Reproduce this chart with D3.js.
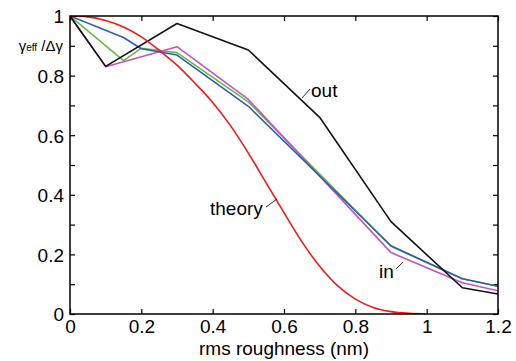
<!DOCTYPE html>
<html>
<head>
<meta charset="utf-8">
<script src="https://cdn.jsdelivr.net/npm/d3@7"></script>
<style>
  body { margin: 0; background: #fff; }
  svg { display: block; font-family: "Liberation Sans", Arial, sans-serif; }
</style>
</head>
<body>
<svg id="chart" width="516" height="361"></svg>
<script>
// measured curves (rms roughness in nm -> gamma_eff / delta gamma)
let outX = [0, 0.1, 0.3, 0.5, 0.7, 0.9, 1.1, 1.2];
let outY = [1, 0.831, 0.975, 0.886, 0.66, 0.31, 0.088, 0.067];

let inX = [0, 0.1, 0.3, 0.5, 0.9, 1.1, 1.2];
let inY = [1, 0.83, 0.897, 0.72, 0.206, 0.105, 0.078];

let blueX = [0, 0.15, 0.2, 0.3, 0.5, 0.9, 1.1, 1.2];
let blueY = [1, 0.928, 0.89, 0.869, 0.697, 0.229, 0.118, 0.093];

let greenX = [0, 0.15, 0.2, 0.3, 0.5, 0.9, 1.1, 1.2];
let greenY = [1, 0.85, 0.892, 0.877, 0.712, 0.227, 0.118, 0.093];

// theory curve
let theoryX = [0, 0.05, 0.1, 0.15, 0.2, 0.25, 0.3, 0.35, 0.4, 0.45, 0.5, 0.55, 0.6, 0.65, 0.7, 0.75, 0.8, 0.85, 0.9, 0.95, 1.0];
let theoryY = [1, 0.997, 0.985, 0.963, 0.93, 0.885, 0.835, 0.775, 0.71, 0.632, 0.54, 0.44, 0.34, 0.243, 0.16, 0.095, 0.05, 0.022, 0.008, 0.002, 0];

let xTicks = [0, 0.2, 0.4, 0.6, 0.8, 1, 1.2];
let yTicks = [0, 0.1, 0.2, 0.3, 0.4, 0.5, 0.6, 0.7, 0.8, 0.9, 1];

let margin = {top: 16, right: 18, bottom: 47, left: 70};
let svg = d3.select("#chart");
let width = 516 - margin.left - margin.right;
let height = 361 - margin.top - margin.bottom;

let x = d3.scaleLinear().domain([0, 1.2]).range([0, width]);
let y = d3.scaleLinear().domain([0, 1]).range([height, 0]);

let g = svg.append("g").attr("transform", `translate(${margin.left},${margin.top})`);

svg.append("defs").append("clipPath").attr("id", "plotclip")
   .append("rect").attr("width", width).attr("height", height);

function fmt(d){
  let k = Math.round(d * 10);
  if (k % 2 !== 0) return "";
  return String(+d.toFixed(1));
}

// axes, ticks pointing inward
let axBottom = g.append("g").attr("transform", `translate(0,${height})`)
  .call(d3.axisBottom(x).tickValues(xTicks).tickSizeInner(-5).tickSizeOuter(0).tickPadding(6).tickFormat(fmt));
let axTop = g.append("g")
  .call(d3.axisTop(x).tickValues(xTicks).tickSizeInner(-5).tickSizeOuter(0).tickFormat(""));
let axLeft = g.append("g")
  .call(d3.axisLeft(y).tickValues(yTicks).tickSizeInner(-5).tickSizeOuter(0).tickPadding(6).tickFormat(fmt));
let axRight = g.append("g").attr("transform", `translate(${width},0)`)
  .call(d3.axisRight(y).tickValues(yTicks).tickSizeInner(-5).tickSizeOuter(0).tickFormat(""));

[axBottom, axTop, axLeft, axRight].forEach(a => {
  a.select(".domain").remove();
  a.selectAll(".tick line").attr("stroke", "#000").attr("stroke-width", 1.2);
  a.selectAll("text").attr("fill", "#000").style("font-size", "19px").style("font-family", "Liberation Sans, Arial, sans-serif");
});
axLeft.selectAll(".tick text").attr("dy", "0.36em");

let line = d3.line().x(d => x(d[0])).y(d => y(d[1]));
let smooth = d3.line().x(d => x(d[0])).y(d => y(d[1])).curve(d3.curveMonotoneX);

let plot = g.append("g").attr("clip-path", "url(#plotclip)");

function drawSeries(xs, ys, color, gen){
  plot.append("path")
    .datum(xs.map((v, i) => [v, ys[i]]))
    .attr("fill", "none")
    .attr("stroke", color)
    .attr("stroke-width", 1.6)
    .attr("stroke-linejoin", "round")
    .attr("d", gen || line);
}

drawSeries(greenX, greenY, "#66bb44");
drawSeries(inX, inY, "#c155c1");
drawSeries(blueX, blueY, "#2f5cb0");
drawSeries(outX, outY, "#111111");
drawSeries(theoryX, theoryY, "#f01a1a", smooth);

// frame
g.append("rect")
  .attr("width", width).attr("height", height)
  .attr("fill", "none").attr("stroke", "#000").attr("stroke-width", 1.5);

// curve labels with small leader lines
function label(txt, tx, ty, x1, y1, x2, y2){
  svg.append("text").attr("x", tx).attr("y", ty)
    .style("font-size", "19px").attr("fill", "#000").text(txt);
  svg.append("line").attr("x1", x1).attr("y1", y1).attr("x2", x2).attr("y2", y2)
    .attr("stroke", "#000").attr("stroke-width", 0.8);
}
label("out", 311, 97, 302, 98, 310, 89);
label("theory", 210, 215, 266, 207, 277, 199);
label("in", 379, 278, 396, 269, 403, 262);

// y axis title
let yt = svg.append("text").attr("x", 63).attr("y", 51).attr("text-anchor", "end")
  .style("font-size", "15px").attr("fill", "#000");
yt.append("tspan").text("γ");
yt.append("tspan").style("font-size", "10px").text("eff");
yt.append("tspan").text(" /Δγ");

// x axis title
svg.append("text").attr("x", margin.left + x(0.6)).attr("y", 355)
  .attr("text-anchor", "middle").style("font-size", "19px").attr("fill", "#000")
  .text("rms roughness (nm)");
</script>
</body>
</html>
